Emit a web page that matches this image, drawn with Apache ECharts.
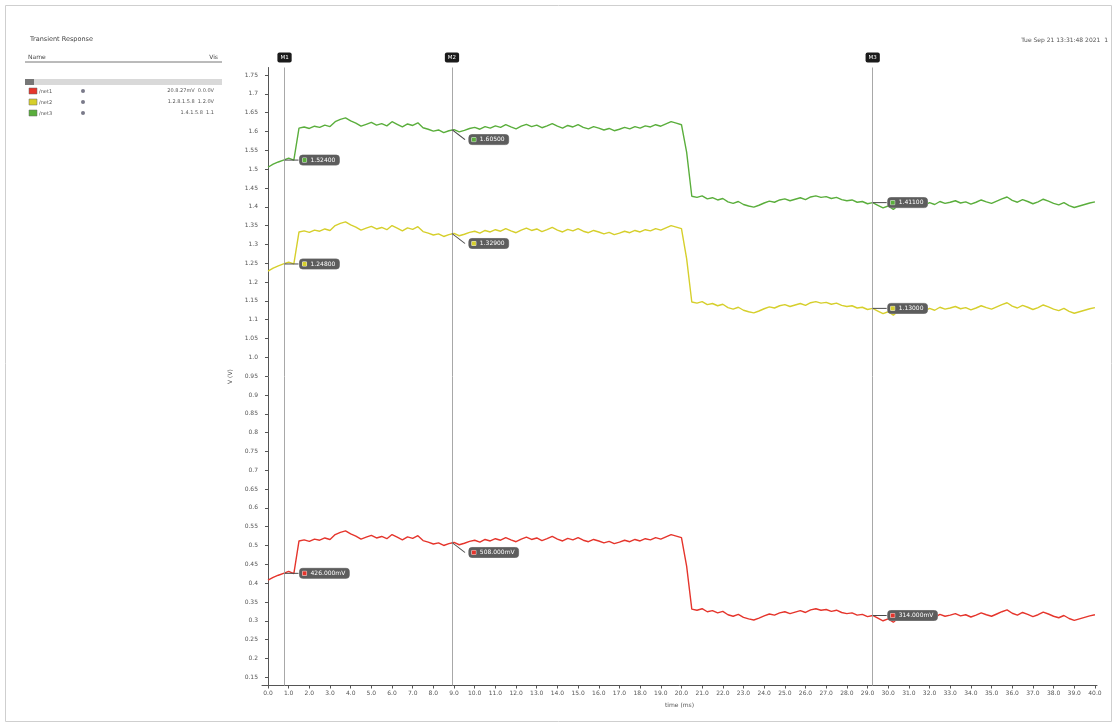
<!DOCTYPE html>
<html><head><meta charset="utf-8">
<script src="https://cdn.jsdelivr.net/npm/echarts@6/dist/echarts.min.js"></script>
<style>html,body{margin:0;padding:0;background:#fff}#c{width:1117px;height:727px}</style>
</head><body><div id="c"></div>
<script>
// sample spacing of the traces (ms)
const step = 0.25;
const green = [
1.505,1.513,1.519,1.524,1.529,1.524,
1.609,1.612,1.608,1.614,1.611,1.617,1.613,1.626,1.632,1.636,
1.628,1.622,1.614,1.619,1.624,1.617,1.621,1.615,1.626,1.619,
1.612,1.620,1.616,1.623,1.610,1.606,1.601,1.604,1.597,1.602,
1.605,1.599,1.603,1.608,1.611,1.606,1.613,1.609,1.615,1.611,
1.618,1.612,1.607,1.614,1.619,1.613,1.617,1.610,1.615,1.621,
1.614,1.609,1.616,1.612,1.618,1.611,1.607,1.613,1.609,1.604,
1.608,1.602,1.606,1.611,1.607,1.613,1.609,1.615,1.612,1.618,
1.614,1.620,1.626,1.622,1.618,
1.545,
1.428,1.425,1.429,1.421,1.424,1.418,1.422,1.413,1.409,1.414,
1.406,1.402,1.399,1.404,1.410,1.415,1.412,1.418,1.421,1.416,
1.420,1.424,1.419,1.426,1.429,1.425,1.427,1.422,1.425,1.419,
1.416,1.418,1.412,1.414,1.408,1.411,1.404,1.397,1.402,1.393,
1.405,1.410,1.406,1.413,1.408,1.404,1.411,1.406,1.414,1.409,
1.412,1.416,1.410,1.413,1.407,1.412,1.418,1.413,1.409,1.415,
1.421,1.426,1.417,1.412,1.419,1.414,1.408,1.413,1.420,1.415,
1.409,1.405,1.411,1.403,1.398,1.402,1.406,1.410,1.413
];
const yellow = [
1.229,1.237,1.243,1.248,1.253,1.248,
1.333,1.336,1.332,1.338,1.335,1.341,1.337,1.350,1.356,1.360,
1.352,1.346,1.338,1.343,1.348,1.341,1.345,1.339,1.350,1.343,
1.336,1.344,1.340,1.347,1.334,1.330,1.325,1.328,1.321,1.326,
1.329,1.323,1.327,1.332,1.335,1.330,1.337,1.333,1.339,1.335,
1.342,1.336,1.331,1.338,1.343,1.337,1.341,1.334,1.339,1.345,
1.338,1.333,1.340,1.336,1.342,1.335,1.331,1.337,1.333,1.328,
1.332,1.326,1.330,1.335,1.331,1.337,1.333,1.339,1.336,1.342,
1.338,1.344,1.350,1.346,1.342,
1.262,
1.147,1.144,1.148,1.140,1.143,1.137,1.141,1.132,1.128,1.133,
1.125,1.121,1.118,1.123,1.129,1.134,1.131,1.137,1.140,1.135,
1.139,1.143,1.138,1.145,1.148,1.144,1.146,1.141,1.144,1.138,
1.135,1.137,1.131,1.133,1.127,1.130,1.123,1.116,1.121,1.112,
1.124,1.129,1.125,1.132,1.127,1.123,1.130,1.125,1.133,1.128,
1.131,1.135,1.129,1.132,1.126,1.131,1.137,1.132,1.128,1.134,
1.140,1.145,1.136,1.131,1.138,1.133,1.127,1.132,1.139,1.134,
1.128,1.124,1.130,1.122,1.117,1.121,1.125,1.129,1.132
];
const red = [
0.408,0.415,0.421,0.426,0.431,0.425,
0.512,0.515,0.511,0.517,0.514,0.520,0.516,0.529,0.535,0.539,
0.531,0.525,0.517,0.522,0.527,0.520,0.524,0.518,0.529,0.522,
0.515,0.523,0.519,0.526,0.513,0.509,0.504,0.507,0.500,0.505,
0.508,0.502,0.506,0.511,0.514,0.509,0.516,0.512,0.518,0.514,
0.521,0.515,0.510,0.517,0.522,0.516,0.520,0.513,0.518,0.524,
0.517,0.512,0.519,0.515,0.521,0.514,0.510,0.516,0.512,0.507,
0.511,0.505,0.509,0.514,0.510,0.516,0.512,0.518,0.515,0.521,
0.517,0.523,0.529,0.525,0.521,
0.445,
0.331,0.328,0.332,0.324,0.327,0.321,0.325,0.316,0.312,0.317,
0.309,0.305,0.302,0.307,0.313,0.318,0.315,0.321,0.324,0.319,
0.323,0.327,0.322,0.329,0.332,0.328,0.330,0.325,0.328,0.322,
0.319,0.321,0.315,0.317,0.311,0.314,0.307,0.300,0.305,0.296,
0.308,0.313,0.309,0.316,0.311,0.307,0.314,0.309,0.317,0.312,
0.315,0.319,0.313,0.316,0.310,0.315,0.321,0.316,0.312,0.318,
0.324,0.329,0.320,0.315,0.322,0.317,0.311,0.316,0.323,0.318,
0.312,0.308,0.314,0.306,0.301,0.305,0.309,0.313,0.316
];
const xTicks = [0,1,2,3,4,5,6,7,8,9,10,11,12,13,14,15,16,17,18,19,20,21,22,23,24,25,26,27,28,29,30,31,32,33,34,35,36,37,38,39,40];
const yTicks = [0.15,0.2,0.25,0.3,0.35,0.4,0.45,0.5,0.55,0.6,0.65,0.7,0.75,0.8,0.85,0.9,0.95,1.0,1.05,1.1,1.15,1.2,1.25,1.3,1.35,1.4,1.45,1.5,1.55,1.6,1.65,1.7,1.75];
const markerNames = ['M1','M2','M3'];
const markerTimes = [0.8, 8.9, 29.25];
const seriesNames = ['/net1','/net2','/net3'];
const legendRight = ['20.8.27mV  0.0.0V','1.2.8.1.5.8  1.2.0V','1.4.1.5.8  1.1'];

const colors = {red:'#e5352c', yellow:'#d6cf2c', green:'#5aae3c'};
const toPairs = arr => arr.map((v,i) => [i*step, v]);
const fmtV = v => v.toFixed(5);
const fmtmV = v => (v*1000).toFixed(3)+'mV';

function markPts(arr, color, fmt){
  return {
    silent:true,
    data: markerTimes.map((t,k) => {
      const v = arr[Math.round(t/step)];
      const diag = k === 1;
      return {coord:[t, v], value: fmt(v),
        symbol: diag ? 'path://M0,0L13,10' : 'rect',
        symbolSize: diag ? [13,10] : [14,1],
        symbolOffset: diag ? [6.5,5] : [7,0],
        itemStyle: diag ? {color:'none', borderColor:'#4a4a4a', borderWidth:1} : {color:'#4a4a4a'},
        label:{offset: diag ? [0, 5] : [0, 0]}};
    }),
    label:{
      show:true, position:'right', distance:1,
      formatter: p => '{s|}{t|' + p.value + '}',
      backgroundColor:'#5d5d5d', borderRadius:3, padding:[2,4,2,3],
      borderColor:'#8a8a8a', borderWidth:0.5,
      rich:{
        s:{width:4, height:4, backgroundColor:color, borderColor:'#eee', borderWidth:0.5},
        t:{color:'#fff', fontSize:6, fontFamily:'DejaVu Sans', padding:[0,0,0,4]}
      }
    }
  };
}

const chart = echarts.init(document.getElementById('c'), null, {renderer:'canvas'});
const txt = (x,y,text,opt={}) => ({type:'text', x, y, silent:true,
  style:Object.assign({text, fill:'#555', font:'6px "DejaVu Sans"'}, opt)});
const graphic = [
  {type:'rect', shape:{x:5.5,y:5.5,width:1106,height:716}, style:{fill:'none', stroke:'#cfcfcf', lineWidth:1}, silent:true},
  txt(30,36,'Transient Response',{font:'6.5px "DejaVu Sans"', fill:'#444'}),
  txt(1108,37,'Tue Sep 21 13:31:48 2021  1',{textAlign:'right', fill:'#555'}),
  txt(28,54,'Name',{fill:'#444'}),
  txt(218,54,'Vis',{textAlign:'right', fill:'#444'}),
  {type:'line', shape:{x1:25,y1:62,x2:222,y2:62}, style:{stroke:'#777', lineWidth:1}, silent:true},
  {type:'rect', shape:{x:25,y:79,width:197,height:6}, style:{fill:'#d9d9d9'}, silent:true},
  {type:'rect', shape:{x:25,y:79,width:9,height:6}, style:{fill:'#777'}, silent:true}
];
const rowCols = [colors.red, colors.yellow, colors.green];
rowCols.forEach((c,k) => {
  const y = 88 + k*11;
  graphic.push({type:'rect', shape:{x:29,y:y,width:8,height:6}, style:{fill:c, stroke:'#666', lineWidth:0.5}, silent:true});
  graphic.push(txt(39,y+1,seriesNames[k],{font:'5px "DejaVu Sans"'}));
  graphic.push({type:'circle', shape:{cx:83,cy:y+3,r:2}, style:{fill:'#7a7a8a'}, silent:true});
  graphic.push(txt(214,y,legendRight[k],{textAlign:'right', font:'5px "DejaVu Sans"'}));
});

chart.setOption({
  animation:false,
  backgroundColor:'#fff',
  graphic,
  grid:{left:262, top:67.5, width:835, height:618},
  xAxis:{
    type:'value', min:-0.29, max:40.1,
    name:'time (ms)', nameLocation:'middle', nameGap:17,
    nameTextStyle:{fontSize:6, color:'#555', fontFamily:'DejaVu Sans'},
    axisLine:{lineStyle:{color:'#555'}},
    axisTick:{customValues:xTicks, length:3, lineStyle:{color:'#555'}},
    axisLabel:{customValues:xTicks, formatter:v => v.toFixed(1), fontSize:6, color:'#555', margin:5, fontFamily:'DejaVu Sans'},
    splitLine:{show:false}
  },
  yAxis:{
    type:'value', min:0.128, max:1.77,
    name:'V (V)', nameLocation:'middle', nameGap:14, nameRotate:90,
    nameTextStyle:{fontSize:6, color:'#555', fontFamily:'DejaVu Sans'},
    axisLine:{show:true, lineStyle:{color:'#555'}},
    axisTick:{show:true, customValues:yTicks, length:3, lineStyle:{color:'#555'}},
    axisLabel:{customValues:yTicks, formatter:v => v.toFixed(2).replace(/0$/,''), fontSize:6, color:'#555', margin:4, fontFamily:'DejaVu Sans'},
    splitLine:{show:false}
  },
  series:[
    {name:'green', type:'line', data:toPairs(green), symbol:'none', lineStyle:{color:colors.green, width:1.4}, itemStyle:{color:colors.green},
     markLine:{symbol:'none', silent:true, lineStyle:{color:'#a8a8a8', width:1, type:'solid'},
       label:{show:true, position:'end', distance:5, formatter:'{b}', backgroundColor:'#1b1b1b', color:'#fff', fontSize:5.5, padding:[2,3], borderRadius:2, fontFamily:'DejaVu Sans'},
       data: markerTimes.map((t,k) => ({xAxis:t, name:markerNames[k]}))},
     markPoint: markPts(green, colors.green, fmtV)},
    {name:'yellow', type:'line', data:toPairs(yellow), symbol:'none', lineStyle:{color:colors.yellow, width:1.4}, itemStyle:{color:colors.yellow},
     markPoint: markPts(yellow, colors.yellow, fmtV)},
    {name:'red', type:'line', data:toPairs(red), symbol:'none', lineStyle:{color:colors.red, width:1.4}, itemStyle:{color:colors.red},
     markPoint: markPts(red, colors.red, fmtmV)}
  ]
});
</script></body></html>
